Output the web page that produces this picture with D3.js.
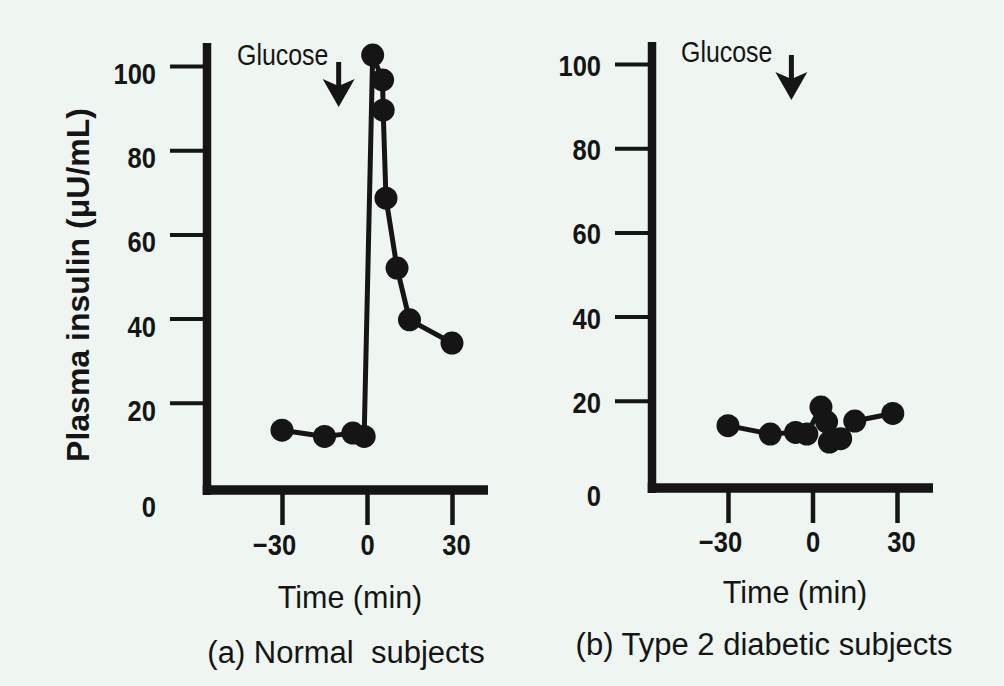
<!DOCTYPE html>
<html>
<head>
<meta charset="utf-8">
<script src="https://cdn.jsdelivr.net/npm/d3@7"></script>
<style>
  html, body { margin: 0; padding: 0; background: #eff6f2; }
  svg { display: block; }
  text { font-family: "Liberation Sans", Arial, Helvetica, sans-serif; fill: #151515; white-space: pre; }
</style>
</head>
<body>
<svg id="chart" width="1004" height="686"></svg>
<script>
// ---------------- data ----------------
const timeTicks = [-30, 0, 30];
const insulinTicks = [20, 40, 60, 80, 100];
const insulinZeroLabel = "0";

// (a) Normal subjects: time (min) and plasma insulin (µU/mL)
const normalTime    = [-30, -15, -5, -1, 2, 5.5, 5.7, 6.7, 10.6, 15, 30];
const normalInsulin = [13.5, 12, 12.8, 12, 102.6, 96.7, 89.5, 68.6, 52, 39.7, 34.2];

// (b) Type 2 diabetic subjects
const diabeticTime    = [-30, -15, -6, -2, 3, 5, 6, 10, 15, 28.5];
const diabeticInsulin = [14.1, 12.1, 12.5, 12.1, 18.5, 15, 10.2, 11, 15.2, 17];

// glucose administration marker (time of arrow, one per panel)
const glucoseTime = [-10, -7.5];
const glucoseLabel = "Glucose";

const xTitle = "Time (min)";
const yTitle = "Plasma insulin (\u03bcU/mL)";
const panelCaptions = ["(a) Normal  subjects", "(b) Type 2 diabetic subjects"];

// ---------------- layout ----------------
const ink = "#151515";
const panels = [
  {
    time: normalTime, insulin: normalInsulin, glucose: glucoseTime[0], caption: panelCaptions[0],
    xRange: [282, 452], yRange: [487, 66],
    axisX: 207, axisRight: 488, axisTop: 43, hAxisY: 490,
    yLabelDy: 7, zeroLabelY: 506, xLabelY: 555,
    arrowTip: 107, glucoseX: 237, glucoseY: 65,
    titleX: 350, titleY: 608, captionX: 346, captionY: 663
  },
  {
    time: diabeticTime, insulin: diabeticInsulin, glucose: glucoseTime[1], caption: panelCaptions[1],
    xRange: [728, 897], yRange: [485, 64],
    axisX: 652, axisRight: 933, axisTop: 42, hAxisY: 488,
    yLabelDy: 1, zeroLabelY: 495, xLabelY: 552,
    arrowTip: 100, glucoseX: 681, glucoseY: 62,
    titleX: 795, titleY: 603, captionX: 764, captionY: 655
  }
];

const svg = d3.select("#chart");
svg.append("rect").attr("width", 1004).attr("height", 686).attr("fill", "#eff6f2");

const condensed = 0.88;
const tickFont = "29px";
const fmtTime = d => d < 0 ? "\u2212" + Math.abs(d) : String(d);

panels.forEach(p => {
  const x = d3.scaleLinear().domain([-30, 30]).range(p.xRange);
  const y = d3.scaleLinear().domain([0, 100]).range(p.yRange);
  const g = svg.append("g");

  // y axis ticks
  const yAxis = d3.axisLeft(y).tickValues(insulinTicks).tickSize(37).tickSizeOuter(0).tickFormat(d3.format("d"));
  const ya = g.append("g").attr("transform", `translate(${p.axisX},0)`).call(yAxis);
  ya.attr("font-size", null).attr("font-family", null);
  ya.select(".domain").remove();
  ya.selectAll(".tick line").attr("stroke", ink).attr("stroke-width", 4);
  ya.selectAll(".tick text")
    .attr("x", null).attr("dy", null)
    .attr("transform", `translate(-51,${p.yLabelDy + 10.5}) scale(${condensed},1)`)
    .attr("text-anchor", "end")
    .style("font-size", tickFont).style("font-weight", "bold")
    .attr("fill", ink);
  g.append("text")
    .attr("transform", `translate(${p.axisX - 51},${p.zeroLabelY + 10.5}) scale(${condensed},1)`)
    .attr("text-anchor", "end").style("font-size", tickFont).style("font-weight", "bold")
    .text(insulinZeroLabel);

  // x axis ticks
  const xAxis = d3.axisBottom(x).tickValues(timeTicks).tickSize(35).tickSizeOuter(0).tickFormat(fmtTime);
  const xa = g.append("g").attr("transform", `translate(0,${p.hAxisY})`).call(xAxis);
  xa.attr("font-size", null).attr("font-family", null);
  xa.select(".domain").remove();
  xa.selectAll(".tick line").attr("stroke", ink).attr("stroke-width", 4.5);
  xa.selectAll(".tick text")
    .attr("y", null).attr("dy", null)
    .attr("transform", d => `translate(${d < 0 ? -8 : (d > 0 ? 4 : 0)},${p.xLabelY - p.hAxisY}) scale(${condensed},1)`)
    .attr("text-anchor", "middle")
    .style("font-size", tickFont).style("font-weight", "bold")
    .attr("fill", ink);

  // thick axis lines
  g.append("line")
    .attr("x1", p.axisX).attr("x2", p.axisX)
    .attr("y1", p.axisTop).attr("y2", p.hAxisY + 5)
    .attr("stroke", ink).attr("stroke-width", 8.5);
  g.append("line")
    .attr("x1", p.axisX - 4.25).attr("x2", p.axisRight)
    .attr("y1", p.hAxisY).attr("y2", p.hAxisY)
    .attr("stroke", ink).attr("stroke-width", 9.5);

  // data line + points
  const pts = p.time.map((t, i) => [t, p.insulin[i]]);
  const line = d3.line().x(d => x(d[0])).y(d => y(d[1]));
  g.append("path").datum(pts)
    .attr("d", line).attr("fill", "none")
    .attr("stroke", ink).attr("stroke-width", 5).attr("stroke-linejoin", "round");
  g.selectAll("circle.pt").data(pts).join("circle")
    .attr("class", "pt")
    .attr("cx", d => x(d[0])).attr("cy", d => y(d[1]))
    .attr("r", 11.5).attr("fill", ink);

  // glucose arrow
  const ax = x(p.glucose);
  const ag = g.append("g").attr("transform", `translate(${ax},${p.arrowTip})`);
  ag.append("line").attr("x1", 0).attr("x2", 0).attr("y1", -45).attr("y2", -18)
    .attr("stroke", ink).attr("stroke-width", 5);
  ag.append("path").attr("d", "M0,0 L-16,-28 L0,-21 L16,-28 Z").attr("fill", ink);
  g.append("text")
    .attr("transform", `translate(${p.glucoseX},${p.glucoseY}) scale(0.86,1)`)
    .style("font-size", "29px").text(glucoseLabel);

  // axis title and caption
  g.append("text").attr("x", p.titleX).attr("y", p.titleY)
    .attr("text-anchor", "middle").style("font-size", "30.5px").text(xTitle);
  g.append("text").attr("x", p.captionX).attr("y", p.captionY)
    .attr("text-anchor", "middle").style("font-size", "31px").text(p.caption);
});

// shared y-axis title
svg.append("text")
  .attr("transform", "translate(89,285) rotate(-90)")
  .attr("text-anchor", "middle")
  .style("font-size", "32px").style("font-weight", "bold")
  .text(yTitle);
</script>
</body>
</html>
